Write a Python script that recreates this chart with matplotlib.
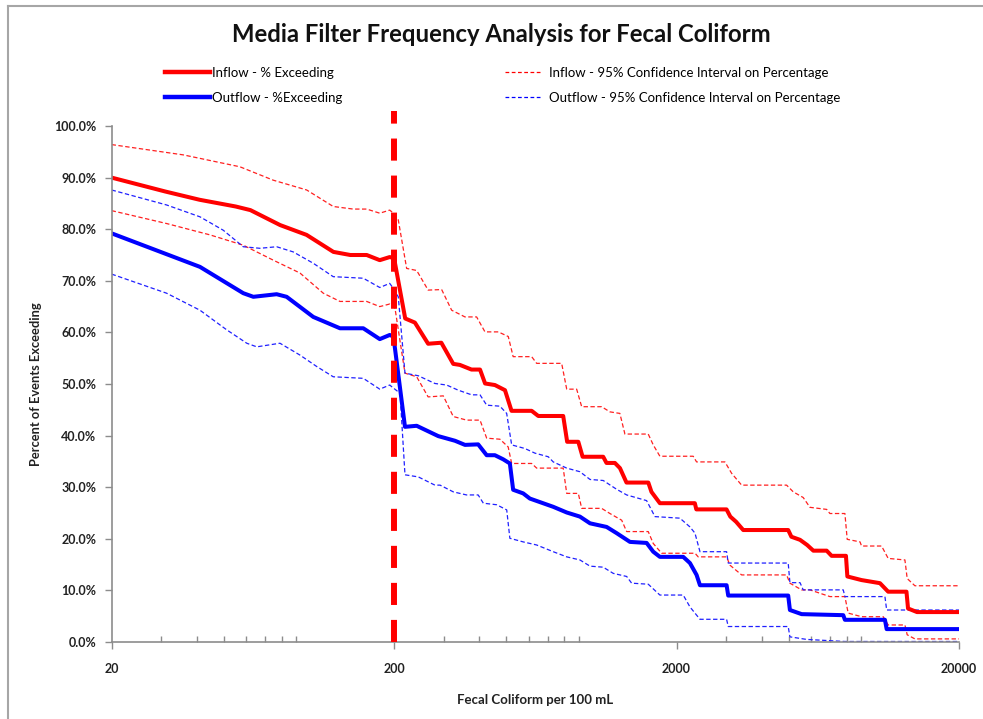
import matplotlib
matplotlib.use("Agg")
import matplotlib.pyplot as plt
from matplotlib.lines import Line2D
from matplotlib.ticker import FixedLocator, FuncFormatter, LogLocator, NullFormatter

plt.rcParams['font.family'] = ['Lato', 'DejaVu Sans']

# Inflow - % exceeding (fecal coliform per 100 mL, percent)
in_x = [20, 31, 41, 55, 62, 79, 98, 122, 140, 160, 178, 193, 200, 219, 237, 264, 294,
        324, 342, 376, 403, 420, 455, 494, 521, 614, 648, 794, 820, 898, 930, 1100, 1130,
        1210, 1261, 1330, 1589, 1630, 1746, 2322, 2350, 3006, 3100, 3250, 3445, 4970,
        5100, 5473, 5800, 6100, 6800, 7080, 7958, 8050, 9038, 10500, 11227, 13033,
        13200, 14200, 20000]
in_y = [90.0, 87.3, 85.7, 84.4, 83.7, 80.8, 78.9, 75.6, 75.0, 75.0, 74.0, 74.6, 74.4,
        62.7, 61.9, 57.8, 58.0, 53.9, 53.7, 52.8, 52.8, 50.1, 49.8, 48.8, 44.8, 44.8,
        43.8, 43.8, 38.8, 38.8, 35.9, 35.9, 34.7, 34.7, 33.7, 30.9, 30.9, 29.1, 26.9,
        26.9, 25.7, 25.7, 24.3, 23.3, 21.7, 21.7, 20.4, 19.8, 18.8, 17.7, 17.7, 16.7,
        16.7, 12.7, 12.0, 11.4, 9.75, 9.75, 6.5, 5.8, 5.8]

# Outflow - % exceeding
out_x = [20, 41.1, 58.5, 63.5, 76.8, 83.3, 103.5, 128.7, 155.6, 178, 193, 199, 218.6,
         240.5, 286.8, 328.6, 356.5, 397, 425.5, 455, 487, 514, 528, 573, 605, 732, 817,
         910, 988, 1131, 1227, 1368, 1567, 1654, 1746, 2112, 2231, 2355, 2421, 3008,
         3048, 4970, 5040, 5545, 7785, 7890, 10935, 11090, 20000]
out_y = [79.2, 72.7, 67.6, 66.9, 67.4, 66.9, 63.0, 60.8, 60.8, 58.7, 59.5, 59.2, 41.7,
         41.9, 39.9, 39.0, 38.2, 38.3, 36.2, 36.2, 35.4, 34.6, 29.5, 28.8, 27.8, 26.2,
         25.1, 24.3, 23.0, 22.3, 21.1, 19.4, 19.2, 17.5, 16.5, 16.5, 15.3, 13.0, 11.0,
         11.0, 9.0, 9.0, 6.2, 5.4, 5.2, 4.3, 4.3, 2.5, 2.5]

# Inflow - 95% confidence interval, upper bound
in_hi_x = [20, 35.9, 56.9, 74.7, 98.1, 121.8, 143.4, 160, 178, 193, 196, 207, 221.6,
           240.5, 264, 294.8, 319.8, 356.5, 392, 419.6, 467.7, 507.4, 528, 614, 639.5,
           784, 817, 886, 923, 1086, 1162, 1260, 1313, 1588, 1654, 1746, 2291, 2355,
           2967, 3133, 3400, 4906, 5178, 5617, 5933, 6797, 6983, 7890, 8040, 8926,
           9038, 10640, 11227, 12870, 13110, 13960, 20000]
in_hi_y = [96.4, 94.4, 92.1, 89.5, 87.6, 84.4, 83.9, 83.9, 83.1, 83.7, 83.4, 81.8, 72.4,
           72.0, 68.2, 68.3, 64.3, 63.0, 63.0, 60.1, 60.1, 59.2, 55.3, 55.3, 54.0, 54.0,
           49.0, 49.0, 45.6, 45.6, 44.6, 44.3, 40.3, 40.3, 38.2, 36.0, 36.0, 34.9, 34.9,
           32.7, 30.4, 30.4, 29.1, 28.0, 26.1, 25.7, 24.9, 24.9, 19.9, 19.4, 18.6, 18.6,
           16.2, 15.9, 12.3, 10.9, 10.9]

# Inflow - 95% confidence interval, lower bound
in_lo_x = [20, 31.3, 44.6, 58.5, 74.7, 92.9, 112.3, 128.7, 160, 178, 193, 201.5, 218.6,
           240.5, 264, 298.7, 324, 361.4, 403, 425.5, 474, 507, 521.6, 614, 639.5, 794,
           817, 898, 923, 1086, 1162, 1279, 1332, 1588, 1654, 1771, 2326, 2386, 3008,
           3090, 3400, 4906, 5040, 5545, 5933, 6983, 7890, 8105, 9038, 10785, 11227,
           12870, 13110, 13960, 20000]
in_lo_y = [83.6, 81.1, 78.9, 76.9, 74.0, 71.5, 67.6, 66.0, 66.0, 65.0, 65.5, 64.7, 52.1,
           51.4, 47.5, 47.7, 43.7, 43.0, 43.0, 39.5, 39.3, 37.8, 34.6, 34.6, 33.7, 33.7,
           28.8, 28.8, 25.9, 25.9, 24.9, 23.6, 21.4, 21.4, 19.1, 17.2, 17.2, 16.5, 16.5,
           14.9, 13.0, 13.0, 11.4, 10.1, 10.1, 8.8, 8.8, 5.6, 4.9, 4.9, 3.3, 3.3, 1.4,
           0.6, 0.6]

# Outflow - 95% confidence interval, upper bound
out_hi_x = [20, 31.3, 41.1, 49.7, 58.5, 67.0, 76.8, 87.9, 103.5, 121.8, 155.6, 178, 193,
            196, 207, 218.6, 243.6, 279, 307, 337.5, 376.5, 403, 425.5, 474, 500.8,
            521.6, 581, 630.6, 703, 732, 817, 910, 988, 1100, 1227, 1332, 1567, 1677,
            2056, 2231, 2324, 2421, 3008, 3048, 4970, 5040, 5473, 5617, 7785, 7890,
            10935, 11090, 20000]
out_hi_y = [87.6, 84.7, 82.4, 79.8, 76.6, 76.3, 76.6, 75.6, 73.4, 70.8, 70.5, 68.7, 69.5,
            69.0, 66.9, 52.1, 51.6, 50.1, 49.8, 48.8, 47.9, 47.9, 45.9, 45.7, 44.3, 38.2,
            37.5, 36.6, 35.9, 34.9, 33.7, 33.0, 31.5, 31.3, 29.6, 28.5, 27.4, 24.3, 24.0,
            22.3, 21.1, 17.5, 17.5, 15.3, 15.3, 11.5, 11.5, 10.1, 10.1, 8.8, 8.8, 6.2,
            6.2]

# Outflow - 95% confidence interval, lower bound
out_lo_x = [20, 31.3, 41.1, 51.1, 60.2, 65.3, 78.9, 92.9, 106.4, 121.8, 155.6, 178, 193,
            196, 210, 218.6, 243.6, 279, 291, 324, 361, 397, 414, 461.6, 501, 514, 573,
            639.5, 732, 817, 910, 988, 1100, 1194, 1332, 1387, 1588, 1746, 2112, 2231,
            2421, 3008, 3048, 4970, 5040, 5775, 7890, 20000]
out_lo_y = [71.3, 67.6, 64.3, 60.5, 57.9, 57.2, 57.9, 55.6, 53.4, 51.4, 51.1, 49.0, 49.8,
            49.5, 48.2, 32.4, 32.0, 30.4, 30.4, 29.1, 28.5, 28.5, 26.9, 26.6, 25.6, 20.1,
            19.4, 18.8, 17.5, 16.5, 15.9, 14.7, 14.5, 13.3, 12.7, 11.4, 11.2, 9.1, 9.1,
            6.8, 4.4, 4.4, 3.0, 3.0, 1.0, 0.5, 0.1, 0.1]

target = 200  # vertical reference at 200 per 100 mL
x_ticks = [20, 200, 2000, 20000]

fig = plt.figure(figsize=(9.83, 7.19), dpi=100)
ax = fig.add_axes([111.6 / 983, 77 / 719, 847.4 / 983, 516 / 719])

ci_style = dict(lw=0.9, dashes=(3.5, 2.0))
ax.plot(in_hi_x, in_hi_y, color='#ff2020', **ci_style)
ax.plot(in_lo_x, in_lo_y, color='#ff2020', **ci_style)
ax.plot(out_hi_x, out_hi_y, color='#2020ff', **ci_style)
ax.plot(out_lo_x, out_lo_y, color='#2020ff', **ci_style)
ax.plot(in_x, in_y, color='#ff0000', lw=2.9, solid_joinstyle='round')
ax.plot(out_x, out_y, color='#0000ff', lw=2.9, solid_joinstyle='round')
ax.plot([target, target], [0, 103], color='#ff0000', lw=4.3, dashes=(3.7, 2.5),
        clip_on=False, zorder=5)

ax.set_xscale('log')
ax.set_xlim(20, 20000)
ax.set_ylim(0, 100)
ax.xaxis.set_major_locator(FixedLocator(x_ticks))
ax.xaxis.set_major_formatter(FuncFormatter(lambda v, p: '%d' % v))
ax.xaxis.set_minor_locator(LogLocator(base=10, subs=range(2, 10)))
ax.xaxis.set_minor_formatter(NullFormatter())
ax.set_yticks(range(0, 101, 10))
ax.yaxis.set_major_formatter(FuncFormatter(lambda v, p: '%.1f%%' % v))

for s in ['top', 'right']:
    ax.spines[s].set_visible(False)
for s in ['left', 'bottom']:
    ax.spines[s].set_color('#8c8c8c')
    ax.spines[s].set_linewidth(1.2)

ax.tick_params(axis='both', which='major', colors='#8c8c8c', labelcolor='#222222',
               labelsize=9, direction='out', length=5, width=1)
ax.tick_params(axis='x', which='minor', colors='#8c8c8c', direction='in', length=4, width=1)
ax.tick_params(axis='x', which='major', pad=10)
ax.tick_params(axis='y', which='major', pad=6)
for lab in ax.get_xticklabels() + ax.get_yticklabels():
    lab.set_fontweight('bold')

ax.set_xlabel('Fecal Coliform per 100 mL', fontsize=9.5, fontweight='bold', labelpad=14,
              color='#222222')
ax.set_ylabel('Percent of Events Exceeding', fontsize=9.3, fontweight='bold', labelpad=9,
              color='#222222')

fig.text(501 / 983, 1 - 34 / 719, 'Media Filter Frequency Analysis for Fecal Coliform',
         ha='center', va='center', fontsize=17.2, fontweight='bold', color='#111111')

h_in = Line2D([], [], color='#ff0000', lw=3.2)
h_out = Line2D([], [], color='#0000ff', lw=3.2)
h_in_ci = Line2D([], [], color='#ff0000', lw=0.9, dashes=(3, 2))
h_out_ci = Line2D([], [], color='#0000ff', lw=0.9, dashes=(3, 2))

leg1 = ax.legend([h_in, h_out], ['Inflow - % Exceeding', 'Outflow - %Exceeding'],
                 loc='upper left', bbox_to_anchor=(165 / 983, 1 - 67 / 719),
                 bbox_transform=fig.transFigure, frameon=False, fontsize=9.5,
                 handlelength=3.4, handletextpad=0.2, labelspacing=0.95,
                 borderpad=0, borderaxespad=0)
ax.add_artist(leg1)
ax.legend([h_in_ci, h_out_ci],
          ['Inflow - 95% Confidence Interval on Percentage',
           'Outflow - 95% Confidence Interval on Percentage'],
          loc='upper left', bbox_to_anchor=(505 / 983, 1 - 67 / 719),
          bbox_transform=fig.transFigure, frameon=False, fontsize=9.5,
          handlelength=2.8, handletextpad=0.5, labelspacing=0.95,
          borderpad=0, borderaxespad=0)

# chart area border (left and top edges visible)
fig.add_artist(Line2D([8 / 983, 8 / 983], [0, 1 - 6 / 719], transform=fig.transFigure,
                      color='#a6a6a6', lw=1.5))
fig.add_artist(Line2D([8 / 983, 1], [1 - 6 / 719, 1 - 6 / 719], transform=fig.transFigure,
                      color='#a6a6a6', lw=1.5))

fig.savefig('out.png', dpi=100)
